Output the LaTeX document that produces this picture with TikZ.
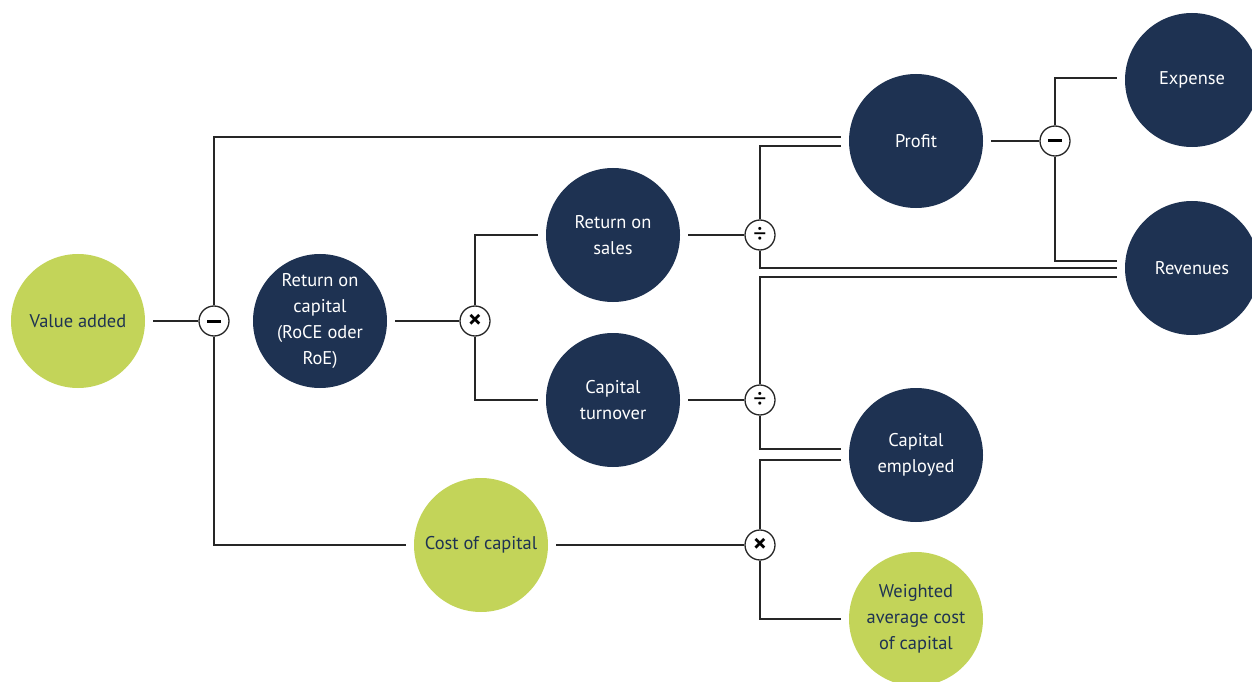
\documentclass[tikz,border=0pt]{standalone}
\usepackage{fontspec}
\setmainfont{PT Sans}
\definecolor{navy}{HTML}{1E3252}
\definecolor{lime}{HTML}{C3D459}
\tikzset{
  kpi/.style={circle,minimum size=134bp,inner sep=0pt,outer sep=8bp,align=center,
    font=\fontsize{18.5}{26}\selectfont},
  dark/.style={kpi,fill=navy,text=white},
  light/.style={kpi,fill=lime,text=navy},
  op/.style={circle,draw=black!85,fill=white,line width=1.3bp,minimum size=30bp,inner sep=0pt,
    font=\bfseries\fontsize{26}{26}\selectfont},
  link/.style={draw=black!85,line width=1.3bp}
}
\newcommand{\minusbar}{\rule[-1.5bp]{14bp}{3bp}}
\begin{document}
\begin{tikzpicture}[x=1bp,y=-1bp]
\useasboundingbox (0,0) rectangle (1252,682);
% the figures
\node[light] (va) at (78,321) {Value added};
\node[dark] (roc) at (320,321) {Return on\\capital\\(RoCE oder\\RoE)};
\node[dark] (ros) at (613,235) {Return on\\sales};
\node[dark] (ct) at (613,400) {Capital\\turnover};
\node[light] (coc) at (481,545) {Cost of capital};
\node[dark] (profit) at (916,141) {Profit};
\node[dark] (ce) at (916,455) {Capital\\employed};
\node[light] (wacc) at (916,619) {Weighted\\average cost\\of capital};
\node[dark] (exp) at (1192,80) {Expense};
\node[dark] (rev) at (1192,268) {Revenues};
% the operators
\node[op] (m1) at (214,321) {\minusbar};
\node[op] (t1) at (475,321) {×};
\node[op] (d1) at (760,235) {\mdseries÷};
\node[op] (d2) at (760,400) {\mdseries÷};
\node[op] (t2) at (760,545) {×};
\node[op] (m2) at (1055,141) {\minusbar};
% links
\draw[link] (va) -- (m1);
\draw[link] (m1) |- ([yshift=4bp]profit.west);
\draw[link] (m1) |- (coc);
\draw[link] (roc) -- (t1);
\draw[link] (t1) |- (ros);
\draw[link] (t1) |- (ct);
\draw[link] (ros) -- (d1);
\draw[link] (d1) |- ([yshift=-5bp]profit.west);
\draw[link] (d1) |- (rev.west);
\draw[link] (ct) -- (d2);
\draw[link] (d2) |- ([yshift=-9bp]rev.west);
\draw[link] (d2) |- ([yshift=6bp]ce.west);
\draw[link] (coc) -- (t2);
\draw[link] (t2) |- ([yshift=-5bp]ce.west);
\draw[link] (t2) |- (wacc);
\draw[link] (profit) -- (m2);
\draw[link] (m2) |- ([yshift=2bp]exp.west);
\draw[link] (m2) |- ([yshift=7bp]rev.west);
\end{tikzpicture}
\end{document}
